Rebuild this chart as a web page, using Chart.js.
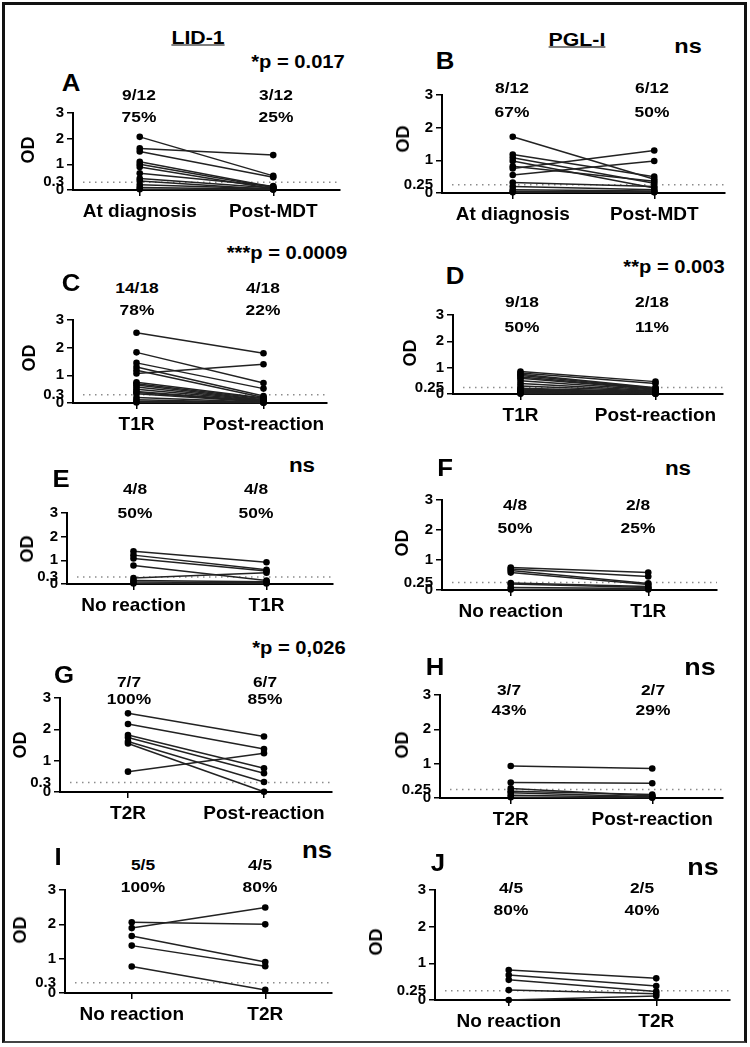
<!DOCTYPE html>
<html>
<head>
<meta charset="utf-8">
<script src="https://cdn.jsdelivr.net/npm/chart.js@4"></script>
<style>
  body { margin:0; background:#fff; width:750px; height:1047px; position:relative; overflow:hidden;
         font-family:'Liberation Sans', Arial, sans-serif; font-weight:bold; color:#000; }
  .frame { position:absolute; left:2px; top:2px; width:739px; height:1036px; border:3px solid #111; border-bottom:2px solid #444; }
  canvas { position:absolute; }
  .t { position:absolute; white-space:nowrap; line-height:1; transform:translate(-50%,-50%) scaleX(1.12); }
</style>
</head>
<body>
<div class="frame"></div>
<script>
// categorias de cada par
const catsDiag  = ['At diagnosis', 'Post-MDT'];
const catsT1R   = ['T1R', 'Post-reaction'];
const catsNoT1R = ['No reaction', 'T1R'];
const catsT2R   = ['T2R', 'Post-reaction'];
const catsNoT2R = ['No reaction', 'T2R'];

// ticks do eixo y (0, cut-off, 1, 2, 3)
const ticksLID = [0, 0.3, 1, 2, 3];
const ticksPGL = [0, 0.25, 1, 2, 3];

// ===== valores OD (antes -> depois) =====
const aBefore = [2.07, 1.62, 1.5, 1.1, 1.0, 0.9, 0.65, 0.45, 0.35, 0.2, 0.1, 0.03];
const aAfter  = [0.55, 1.36, 0.5, 0.12, 0.1, 0.05, 0.15, 0.08, 0.02, 0.05, 0.03, 0.02];

const bBefore = [1.72, 1.18, 1.08, 0.98, 0.82, 0.75, 0.55, 0.32, 0.2, 0.1, 0.05, 0.02];
const bAfter  = [0.42, 0.5, 0.3, 0.15, 0.36, 1.3, 0.98, 0.2, 0.1, 0.06, 0.03, 0.02];

const cBefore = [2.54, 1.83, 1.45, 1.3, 1.18, 1.07, 0.75, 0.7, 0.65, 0.58, 0.5, 0.42, 0.38, 0.33, 0.2, 0.12, 0.06, 0.02];
const cAfter  = [1.8, 0.72, 0.52, 0.25, 0.2, 1.4, 0.18, 0.15, 0.12, 0.1, 0.08, 0.06, 0.05, 0.04, 0.03, 0.02, 0.02, 0.01];

const dBefore = [0.85, 0.8, 0.75, 0.7, 0.65, 0.6, 0.5, 0.4, 0.3, 0.22, 0.18, 0.15, 0.12, 0.1, 0.08, 0.05, 0.03, 0.01];
const dAfter  = [0.47, 0.4, 0.24, 0.22, 0.2, 0.18, 0.15, 0.12, 0.1, 0.09, 0.08, 0.06, 0.05, 0.04, 0.03, 0.02, 0.01, 0.01];

const eBefore = [1.38, 1.22, 1.08, 0.78, 0.25, 0.15, 0.08, 0.02];
const eAfter  = [0.92, 0.6, 0.55, 0.15, 0.48, 0.1, 0.05, 0.02];

const fBefore = [0.75, 0.7, 0.65, 0.58, 0.23, 0.2, 0.08, 0.02];
const fAfter  = [0.58, 0.45, 0.22, 0.18, 0.12, 0.08, 0.05, 0.02];

const gBefore = [2.51, 2.17, 0.65, 1.82, 1.74, 1.61, 1.55];
const gAfter  = [1.77, 1.37, 1.24, 0.76, 0.6, 0.32, 0.01];

const hBefore = [0.93, 0.45, 0.28, 0.2, 0.15, 0.08, 0.02];
const hAfter  = [0.86, 0.43, 0.06, 0.1, 0.04, 0.02, 0.01];

const iBefore = [2.06, 1.89, 1.66, 1.38, 0.77];
const iAfter  = [2.0, 2.49, 0.9, 0.78, 0.09];

const jBefore = [0.82, 0.68, 0.55, 0.27, 0.0];
const jAfter  = [0.59, 0.38, 0.23, 0.17, 0.11];

// rótulos de positivos / estatística
const aCounts = ['9/12', '75%', '3/12', '25%'];
const bCounts = ['8/12', '67%', '6/12', '50%'];
const cCounts = ['14/18', '78%', '4/18', '22%'];
const dCounts = ['9/18', '50%', '2/18', '11%'];
const eCounts = ['4/8', '50%', '4/8', '50%'];
const fCounts = ['4/8', '50%', '2/8', '25%'];
const gCounts = ['7/7', '100%', '6/7', '85%'];
const hCounts = ['3/7', '43%', '2/7', '29%'];
const iCounts = ['5/5', '100%', '4/5', '80%'];
const jCounts = ['4/5', '80%', '2/5', '40%'];

const stats = ['*p = 0.017', 'ns', '***p = 0.0009', '**p = 0.003', 'ns', 'ns', '*p = 0,026', 'ns', 'ns', 'ns'];

// ===== layout (área do gráfico: esquerda, topo(3), direita, base(0)) =====
const panels = [
  { letter:'A', cats:catsDiag,  before:aBefore, after:aAfter, ticks:ticksLID, counts:aCounts, box:[73,113,340,190],
    letterAt:[71,83],  statAt:[298,62,18],  cx:[139,276], cy:[95,117],  od:[28,150] },
  { letter:'B', cats:catsDiag,  before:bBefore, after:bAfter, ticks:ticksPGL, counts:bCounts, box:[442,95,725,193],
    letterAt:[445,61], statAt:[688,45,21],  cx:[512,652], cy:[88,112],  od:[403,139] },
  { letter:'C', cats:catsT1R,   before:cBefore, after:cAfter, ticks:ticksLID, counts:cCounts, box:[73,320,327,403],
    letterAt:[71,283], statAt:[287,253,18], cx:[137,263], cy:[288,310], od:[29,358] },
  { letter:'D', cats:catsT1R,   before:dBefore, after:dAfter, ticks:ticksPGL, counts:dCounts, box:[453,315,723,394],
    letterAt:[455,276], statAt:[674,267,18], cx:[522,652], cy:[302,327], od:[410,353] },
  { letter:'E', cats:catsNoT1R, before:eBefore, after:eAfter, ticks:ticksLID, counts:eCounts, box:[67,513,333,584],
    letterAt:[61,479], statAt:[302,465,20], cx:[135,256], cy:[489,513], od:[27,549] },
  { letter:'F', cats:catsNoT1R, before:fBefore, after:fAfter, ticks:ticksPGL, counts:fCounts, box:[442,500,717,590],
    letterAt:[445,468], statAt:[678,468,20], cx:[515,638], cy:[505,528], od:[402,543] },
  { letter:'G', cats:catsT2R,   before:gBefore, after:gAfter, ticks:ticksLID, counts:gCounts, box:[60,698,332,792],
    letterAt:[64,675], statAt:[299,648,18], cx:[129,265], cy:[682,699], od:[20,745] },
  { letter:'H', cats:catsT2R,   before:hBefore, after:hAfter, ticks:ticksPGL, counts:hCounts, box:[440,695,723,798],
    letterAt:[435,667], statAt:[700,667,24], cx:[509,653], cy:[690,710], od:[402,745] },
  { letter:'I', cats:catsNoT2R, before:iBefore, after:iAfter, ticks:ticksLID, counts:iCounts, box:[65,890,332,993],
    letterAt:[58,857], statAt:[317,850,23], cx:[143,260], cy:[865,887], od:[20,930] },
  { letter:'J', cats:catsNoT2R, before:jBefore, after:jAfter, ticks:ticksPGL, counts:jCounts, box:[435,890,730,1000],
    letterAt:[438,863], statAt:[703,867,24], cx:[511,642], cy:[888,910], od:[376,942] }
];

Chart.defaults.font.family = "'Liberation Sans', Arial, sans-serif";
Chart.defaults.font.weight = 'bold';
Chart.defaults.color = '#000';

const PAD_L = 50, PAD_T = 16, PAD_R = 16, PAD_B = 34;

// linha pontilhada do cut-off
const thresholdLine = {
  id: 'thresholdLine',
  beforeDatasetsDraw(chart, args, opts) {
    const { ctx, chartArea, scales } = chart;
    const y = scales.y.getPixelForValue(opts.value);
    ctx.save();
    ctx.strokeStyle = '#8c8c8c';
    ctx.lineWidth = 1.5;
    ctx.setLineDash([1.5, 4.5]);
    ctx.beginPath();
    ctx.moveTo(chartArea.left + 10, y);
    ctx.lineTo(chartArea.right, y);
    ctx.stroke();
    ctx.restore();
  }
};

const addText = (txt, x, y, size, extra) => {
  const d = document.createElement('div');
  d.className = 't';
  d.textContent = txt;
  d.style.left = x + 'px';
  d.style.top = y + 'px';
  d.style.fontSize = size + 'px';
  if (extra) Object.assign(d.style, extra);
  document.body.appendChild(d);
};

// títulos das colunas
addText('LID-1', 198, 37, 19, { textDecoration: 'underline' });
addText('PGL-I', 577, 39, 19, { textDecoration: 'underline' });

panels.forEach((p, k) => {
  const [L, T, R, B] = p.box;
  const w = R - L + PAD_L + PAD_R;
  const h = B - T + PAD_T + PAD_B;
  const cv = document.createElement('canvas');
  cv.width = w; cv.height = h;
  cv.style.left = (L - PAD_L) + 'px';
  cv.style.top = (T - PAD_T) + 'px';
  cv.style.width = w + 'px';
  cv.style.height = h + 'px';
  document.body.appendChild(cv);

  const thr = p.ticks[1];

  new Chart(cv, {
    type: 'line',
    data: {
      labels: p.cats,
      datasets: p.before.map((v, i) => ({
        data: [v, p.after[i]],
        borderColor: '#222',
        borderWidth: 1.5,
        pointRadius: 3.3,
        pointBackgroundColor: '#000',
        pointBorderColor: '#000',
        pointBorderWidth: 0,
        clip: false
      }))
    },
    options: {
      responsive: false,
      animation: false,
      devicePixelRatio: 1,
      layout: { padding: { top: PAD_T, right: PAD_R, left: 0, bottom: 0 } },
      plugins: {
        legend: { display: false },
        tooltip: { enabled: false },
        thresholdLine: { value: thr }
      },
      scales: {
        x: {
          type: 'category',
          offset: true,
          grid: { display: true, drawOnChartArea: false, offset: false, tickLength: 6, color: '#000', lineWidth: 1.5 },
          border: { color: '#000', width: 2 },
          ticks: { font: { size: 19, weight: 'bold' }, padding: 4, maxRotation: 0, autoSkip: false },
          afterFit: (s) => { s.height = PAD_B; }
        },
        y: {
          type: 'linear',
          min: 0,
          max: 3,
          afterBuildTicks: (s) => { s.ticks = p.ticks.map(v => ({ value: v })); },
          ticks: { font: { size: 15, weight: 'bold' }, padding: 3, autoSkip: false, callback: (v) => String(v) },
          grid: {
            display: true, drawOnChartArea: false, tickLength: 6, lineWidth: 1.5,
            color: (c) => (c.tick && c.tick.value === thr) ? 'rgba(0,0,0,0)' : '#000'
          },
          border: { color: '#000', width: 2 },
          afterFit: (s) => { s.width = PAD_L; }
        }
      }
    },
    plugins: [thresholdLine]
  });

  // letra, estatística, contagens e rótulo OD
  addText(p.letter, p.letterAt[0], p.letterAt[1], 23);
  addText(stats[k], p.statAt[0], p.statAt[1], p.statAt[2]);
  addText(p.counts[0], p.cx[0], p.cy[0], 15.5);
  addText(p.counts[1], p.cx[0], p.cy[1], 15.5);
  addText(p.counts[2], p.cx[1], p.cy[0], 15.5);
  addText(p.counts[3], p.cx[1], p.cy[1], 15.5);
  addText('OD', p.od[0], p.od[1], 18, { transform: 'translate(-50%,-50%) rotate(-90deg)' });
});
</script>
</body>
</html>
